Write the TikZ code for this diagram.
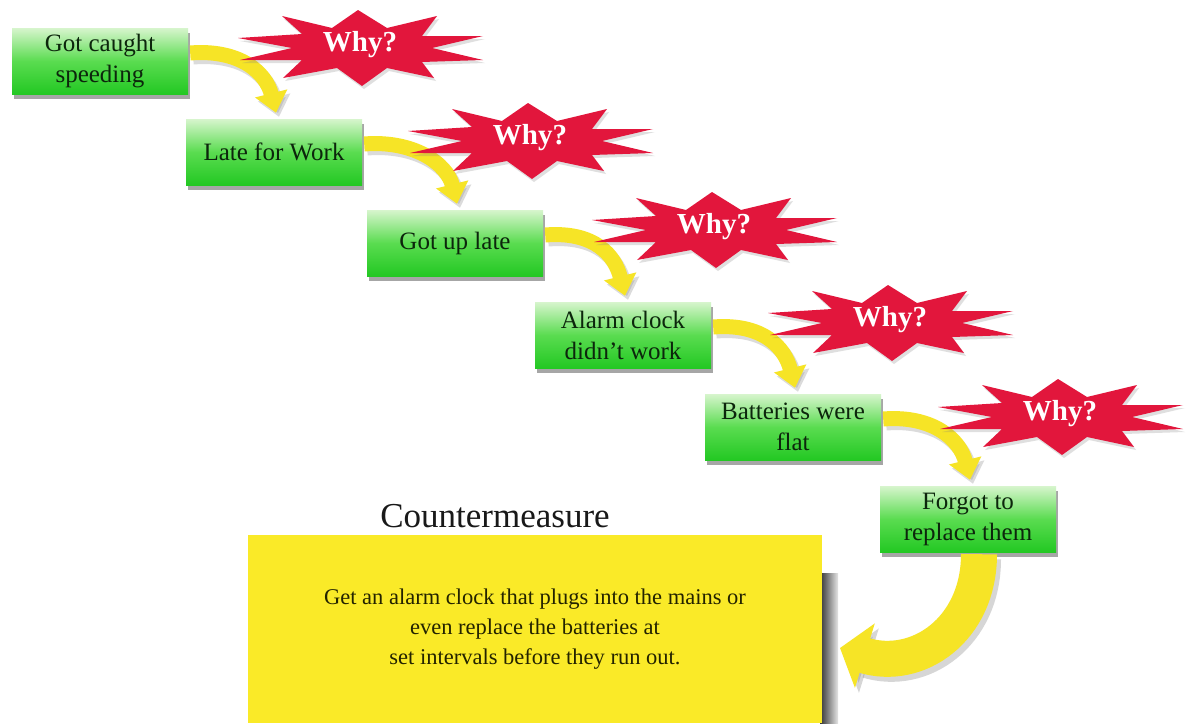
\documentclass[tikz,border=0pt]{standalone}
\usepackage{fontspec}
\setmainfont{Liberation Serif}
\usetikzlibrary{arrows.meta,shadows,calc}
\definecolor{starred}{RGB}{226,22,60}
\definecolor{arrowyel}{RGB}{246,228,38}
\definecolor{boxyel}{RGB}{250,234,40}
\definecolor{gtop}{RGB}{215,245,205}
\definecolor{gmid}{RGB}{90,220,80}
\definecolor{gbot}{RGB}{35,200,35}
\definecolor{gtext}{RGB}{12,38,12}
\definecolor{ytext}{RGB}{35,35,0}
\tikzset{
  gbox/.style={rectangle, minimum width=176pt, minimum height=66pt, inner sep=2pt,
    top color=gtop, bottom color=gbot, middle color=gmid,
    drop shadow={shadow xshift=2pt, shadow yshift=-5pt, fill=black, opacity=.35},
    text=gtext, align=center, font=\fontsize{25}{31}\selectfont},
  yarrow/.style={draw=arrowyel, line width=15pt,
    -{Triangle[length=20pt,width=32pt,fill=arrowyel]}},
  yshadow/.style={draw=black!40, opacity=.35, line width=15pt,
    -{Triangle[length=20pt,width=32pt]}},
  bigarrow/.style={draw=arrowyel, line width=36pt,
    -{Triangle[length=26pt,width=66pt,fill=arrowyel]}},
  bigshadow/.style={draw=black!45, opacity=.35, line width=36pt,
    -{Triangle[length=26pt,width=66pt]}},
  whytext/.style={text=white, font=\bfseries\fontsize{29}{30}\selectfont, inner sep=0pt},
  whystar/.pic={
    \fill[black!50, opacity=.25, shift={(2,3)}]
      (-124,-10) -- (-60,-14) -- (-80,-32) -- (-30,-20) -- (-4,-38) -- (25,-20) --
      (75,-32) -- (60,-12) -- (121,-12) -- (70,0) -- (121,12) -- (60,14) --
      (72,30) -- (25,20) -- (0,38) -- (-25,20) -- (-79,30) -- (-60,12) --
      (-122,12) -- (-70,0) -- cycle;
    \fill[starred]
      (-124,-10) -- (-60,-14) -- (-80,-32) -- (-30,-20) -- (-4,-38) -- (25,-20) --
      (75,-32) -- (60,-12) -- (121,-12) -- (70,0) -- (121,12) -- (60,14) --
      (72,30) -- (25,20) -- (0,38) -- (-25,20) -- (-79,30) -- (-60,12) --
      (-122,12) -- (-70,0) -- cycle;
    \node[whytext] (-t) at (-2,-3) {Why?};
  }
}
\begin{document}
\begin{tikzpicture}[x=1pt,y=-1pt]
\useasboundingbox[fill=white] (0,0) rectangle (1188,723);

% green boxes
\node[gbox] (b1) at (100,61)  {Got caught\\speeding};
\node[gbox] (b2) at (274,152) {Late for Work};
\node[gbox] (b3) at (455,243) {Got up late};
\node[gbox] (b4) at (623,335) {Alarm clock\\didn\symbol{39}t work};
\node[gbox] (b5) at (793,427) {Batteries were\\flat};
\node[gbox] (b6) at (968,519) {Forgot to\\replace them};

% countermeasure box
\node[font=\fontsize{35}{36}\selectfont, text=black!90, anchor=base] (ct) at (495,527) {Countermeasure};
\fill[left color=black!80, right color=black!10] (820,573) rectangle (838,723);
\node[rectangle, fill=boxyel, minimum width=574pt, minimum height=188pt, inner sep=0pt,
      text=ytext, align=center, font=\fontsize{22.5}{30}\selectfont] (cm) at (535,629)
  {Get an alarm clock that plugs into the mains or\\even replace the batteries at\\set intervals before they run out.};

% small yellow arrows
\foreach \a/\b in {b1/b2,b2/b3,b3/b4,b4/b5,b5/b6}{
  \draw[yshadow, transform canvas={shift={(3pt,-4pt)}}] ($(\a.east)+(2,-8)$) .. controls +(50,-4) and +(-10,-40) .. ($(\b.north)+(2,-6)$);
  \draw[yarrow] ($(\a.east)+(2,-8)$) .. controls +(50,-4) and +(-10,-40) .. ($(\b.north)+(2,-6)$);
}

% big arrow to the countermeasure
\coordinate (aend) at (840,648);
\draw[bigshadow, transform canvas={shift={(4pt,-5pt)}}] ($(b6.south)+(11,2)$) .. controls +(0,75) and (918,672) .. (aend);
\draw[bigarrow] ($(b6.south)+(11,2)$) .. controls +(0,75) and (918,672) .. (aend);

% Why? stars
\pic (s1) at (362,48)  {whystar};
\pic (s2) at (532,141) {whystar};
\pic (s3) at (716,230) {whystar};
\pic (s4) at (892,323) {whystar};
\pic (s5) at (1062,417) {whystar};
\end{tikzpicture}
\end{document}
